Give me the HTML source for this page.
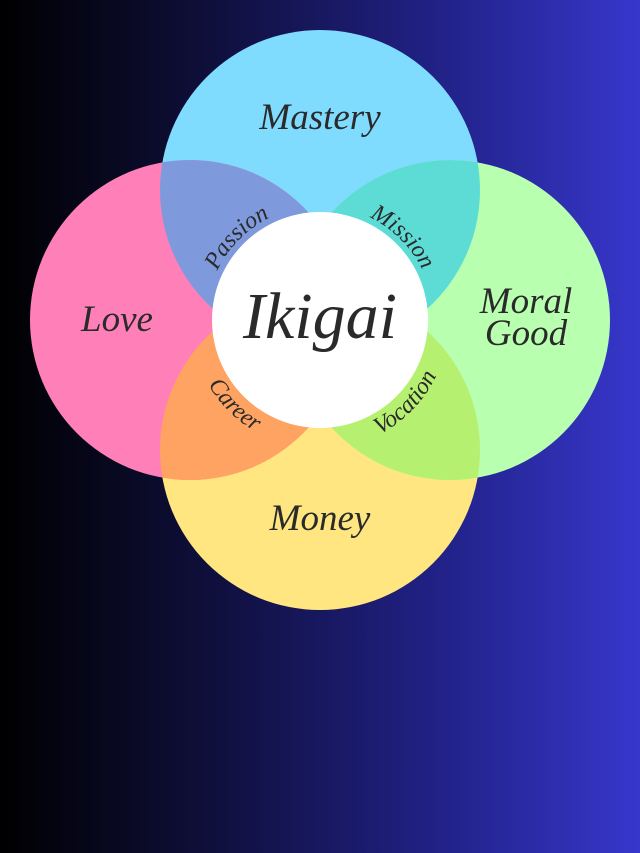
<!DOCTYPE html>
<html><head><style>
html,body{margin:0;padding:0;}
body{width:640px;height:853px;overflow:hidden;background:linear-gradient(90deg,#000 0%,#101040 35%,#22228a 70%,#3737cc 100%);}
svg{display:block}
text{font-family:"Liberation Serif",serif;font-style:italic;fill:#2a2a2a;}
</style></head><body>
<svg width="640" height="853" viewBox="0 0 640 853">
<defs>
<clipPath id="cT"><circle cx="320" cy="190" r="160"/></clipPath>
<clipPath id="cB"><circle cx="320" cy="450" r="160"/></clipPath>
<path id="arcT" d="M 206,320 A 114 114 0 1 1 434,320 A 114 114 0 1 1 206,320"/>
<path id="arcB" d="M 191,320 A 129 129 0 1 0 449,320 A 129 129 0 1 0 191,320"/>
</defs>
<circle cx="320" cy="190" r="160" fill="#80dcff"/>
<circle cx="320" cy="450" r="160" fill="#ffe680"/>
<circle cx="190" cy="320" r="160" fill="#ff80b8"/>
<circle cx="450" cy="320" r="160" fill="#b8ffb0"/>
<circle cx="190" cy="320" r="160" fill="#7f9adc" clip-path="url(#cT)"/>
<circle cx="450" cy="320" r="160" fill="#5ddcd6" clip-path="url(#cT)"/>
<circle cx="190" cy="320" r="160" fill="#ffa362" clip-path="url(#cB)"/>
<circle cx="450" cy="320" r="160" fill="#b6f070" clip-path="url(#cB)"/>
<circle cx="320" cy="320" r="108" fill="#fff"/>
<text x="320" y="129" font-size="37" text-anchor="middle">Mastery</text>
<text x="117" y="331" font-size="37" text-anchor="middle">Love</text>
<text x="526" y="313" font-size="37" text-anchor="middle">Moral</text>
<text x="526" y="345" font-size="37" text-anchor="middle">Good</text>
<text x="320" y="530" font-size="37" text-anchor="middle">Money</text>
<text x="320" y="338" font-size="66" text-anchor="middle">Ikigai</text>
<text font-size="24" text-anchor="middle"><textPath href="#arcT" startOffset="89">Passion</textPath></text>
<text font-size="24" text-anchor="middle"><textPath href="#arcT" startOffset="268">Mission</textPath></text>
<text font-size="24" text-anchor="middle"><textPath href="#arcB" startOffset="101">Career</textPath></text>
<text font-size="24" text-anchor="middle"><textPath href="#arcB" startOffset="306">Vocation</textPath></text>
</svg>
</body></html>
